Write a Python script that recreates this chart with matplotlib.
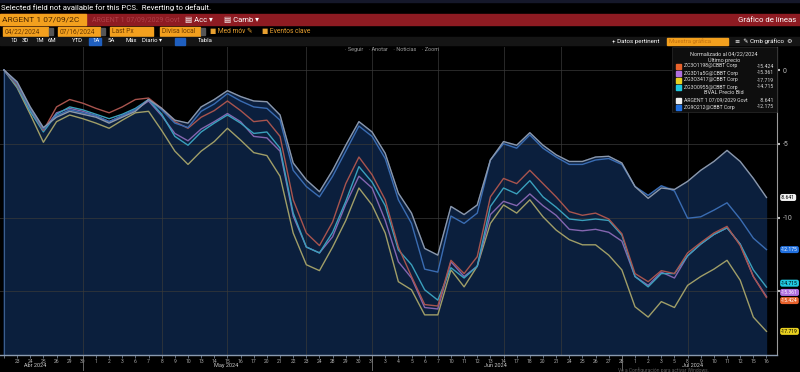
import numpy as np
import pandas as pd
import matplotlib.pyplot as plt
from matplotlib.patches import Rectangle

plt.rcParams['font.family'] = ['Roboto', 'DejaVu Sans']

W, H = 800, 372

# dias habiles del periodo (sin feriados de EEUU)
fechas = pd.bdate_range('2024-04-22', '2024-07-16')
fechas = fechas[~fechas.isin(pd.to_datetime(['2024-05-27', '2024-06-19', '2024-07-04']))]

# rendimiento normalizado al 04/22/2024 (%)
argent = [0, -0.8, -2.5, -3.9, -3.2, -2.8, -3.0, -3.2, -3.6, -3.2, -2.8, -2.0, -2.6, -3.4, -3.6,
          -2.5, -2.0, -1.4, -1.8, -2.1, -2.15, -3.05, -6.3, -7.45, -8.25, -6.8, -5.1, -3.5, -4.2,
          -5.65, -8.35, -9.7, -12.1, -12.55, -9.25, -9.8, -9.15, -6.1, -4.85, -5.1, -4.25, -5.1,
          -5.75, -6.2, -6.2, -5.9, -5.85, -6.3, -7.9, -8.7, -8.0, -8.1, -7.55, -6.8, -6.2, -5.45,
          -6.2, -7.35, -8.641]
azul = [0, -0.9, -2.6, -4.0, -3.1, -2.7, -2.9, -3.1, -3.5, -3.1, -2.7, -2.0, -2.7, -3.6, -3.9,
        -2.8, -2.3, -1.6, -2.1, -2.5, -2.6, -3.4, -6.8, -7.9, -8.6, -7.2, -5.5, -3.8, -4.5,
        -6.0, -8.8, -10.4, -13.5, -13.7, -9.9, -10.4, -9.7, -6.1, -5.0, -5.3, -4.4, -5.3,
        -5.9, -6.4, -6.4, -6.1, -6.0, -6.4, -7.9, -8.5, -7.85, -8.2, -10.05, -9.95, -9.5, -9.0,
        -10.1, -11.4, -12.175]
naranja = [0, -1.0, -2.6, -4.1, -2.5, -2.0, -2.25, -2.6, -2.9, -2.5, -2.0, -1.9, -2.6, -3.5, -3.95,
           -3.2, -2.75, -2.1, -2.75, -3.5, -3.4, -4.5, -8.8, -11.05, -11.9, -10.3, -7.7, -5.9, -7.1,
           -8.8, -12.0, -14.0, -15.9, -16.0, -12.9, -13.8, -12.65, -8.6, -7.35, -7.7, -6.8, -7.7,
           -8.6, -9.6, -9.85, -9.7, -10.1, -11.1, -13.8, -14.35, -13.6, -13.8, -12.4, -11.7, -11.05,
           -10.6, -11.9, -14.0, -15.424]
cian = [0, -1.1, -2.8, -4.2, -3.0, -2.5, -2.7, -3.0, -3.3, -3.0, -2.6, -2.0, -3.0, -4.5, -5.1,
        -4.2, -3.6, -3.05, -3.6, -4.3, -4.2, -5.3, -9.7, -12.0, -12.4, -11.0, -8.9, -6.55, -7.6,
        -9.2, -12.2, -13.2, -14.9, -15.6, -13.4, -14.1, -13.3, -9.25, -8.0, -8.4, -7.5, -8.6,
        -9.3, -10.1, -10.2, -10.1, -10.2, -11.2, -14.0, -14.7, -13.8, -13.8, -12.6, -11.8, -11.15,
        -10.7, -11.8, -13.55, -14.715]
violeta = [0, -1.1, -2.8, -4.1, -2.9, -2.6, -2.8, -3.1, -3.5, -3.1, -2.7, -2.1, -3.1, -4.3, -4.8,
           -4.0, -3.5, -2.95, -3.5, -4.5, -4.6, -5.5, -9.9, -12.0, -12.4, -11.3, -9.1, -7.2, -8.0,
           -10.2, -13.0, -14.1, -16.1, -16.2, -13.0, -14.0, -13.3, -9.8, -8.9, -9.2, -8.4, -9.2,
           -9.85, -10.8, -10.9, -10.8, -11.0, -11.6, -14.0, -14.6, -13.7, -14.1, -12.6, -11.8, -11.15,
           -10.7, -11.8, -14.0, -15.361]
amarillo = [0, -1.2, -3.0, -4.9, -3.5, -3.05, -3.3, -3.6, -3.95, -3.4, -2.9, -2.8, -4.1, -5.5, -6.4,
            -5.5, -4.85, -3.95, -4.75, -5.6, -5.8, -7.2, -11.05, -13.2, -13.6, -12.0, -10.2, -8.0, -9.15,
            -11.05, -14.35, -14.9, -16.6, -16.6, -13.55, -14.7, -13.3, -10.4, -9.15, -9.7, -8.8, -9.95,
            -10.85, -11.5, -11.85, -11.85, -12.55, -13.55, -16.05, -16.75, -15.7, -16.1, -14.6, -14.0, -13.5,
            -12.9, -14.25, -16.75, -17.719]

nombres = ['ZC3O1198@CBBT Corp', 'ZG3D1a5G@CBBT Corp', 'ZG3O3417@CBBT Corp',
           'ZG3O0955@CBBT Corp', 'ARGENT 1 07/09/2029 Govt', 'ZG9O212@CBBT Corp']
series = [naranja, violeta, amarillo, cian, argent, azul]
col_leyenda = ['#e8622c', '#b070e0', '#e8d020', '#20c8e0', '#f0f0f0', '#2070e0']
col_linea = ['#a8544e', '#8466b0', '#a09e68', '#3aa0bc', '#8c98ab', '#3a6cb2']

fig = plt.figure(figsize=(8, 3.72), dpi=100, facecolor='black')


def rect(x, y, w, h, color, **kw):
    fig.add_artist(Rectangle((x / W, 1 - (y + h) / H), w / W, h / H,
                             transform=fig.transFigure, color=color, **kw))


def txt(x, y, s, **kw):
    kw.setdefault('va', 'center')
    kw.setdefault('fontsize', 5)
    kw.setdefault('color', 'white')
    fig.text(x / W, 1 - y / H, s, **kw)


# barras de la terminal
rect(0, 0, 800, 2, '#15182a')
txt(1, 8, 'Selected field not available for this PCS.  Reverting to default.', fontsize=5.6)
rect(0, 14, 800, 11, '#8e1b22')
rect(0, 14, 86, 11, '#f3a01e')
txt(2, 19.5, 'ARGENT 1 07/09/2C', color='#4a2600', fontsize=6)
txt(92, 19.5, 'ARGENT 1 07/09/2029 Govt', color='#b04048', fontsize=5)
txt(185, 19.5, '\u25a4 Acc \u25be', fontsize=5.5)
txt(224, 19.5, '\u25a4 Camb \u25be', fontsize=5.5)
txt(796, 19.5, 'Gráfico de líneas', ha='right', fontsize=5.6)

for x0, w, s in [(3, 45, '04/22/2024'), (58, 42, '07/16/2024'), (110, 43, 'Last Px'), (160, 40, 'Divisa local')]:
    rect(x0, 27, w, 9, '#f3a01e')
    txt(x0 + 2, 31.5, s, color='#6a3a00', fontsize=4.8)
for x0 in [49, 101, 201]:
    rect(x0, 28, 4, 7, '#555555')
txt(210, 31.5, '\u25a0 Med móv \u270e', color='#e8a030', fontsize=4.8)
txt(262, 31.5, '\u25a0 Eventos clave', color='#e8a030', fontsize=4.8)

rect(0, 37, 800, 8, '#151515')
rect(89, 37.5, 12, 7, '#1f5fbf')
rect(175, 37.5, 10, 7, '#1f5fbf')
for x0, s in [(10, '1D'), (22, '3D'), (35, '1M'), (48, '6M'), (72, 'YTD'), (92, '1A'),
              (108, '5A'), (125, 'Máx'), (142, 'Diario \u25be'), (198, 'Tabla')]:
    txt(x0, 41, s, fontsize=4.3)
txt(612, 41, '+ Datos pertinent', fontsize=4.5)
rect(667, 37.5, 61, 7, '#f3a01e')
txt(669, 41, 'Muestra gráfica', color='#c07010', fontsize=4.3)
txt(735, 41, '\u2261  \u270e Cmb gráfico  \u2699', fontsize=4.5)

ax = fig.add_axes([0, 17 / H, 777 / W, 308 / H], facecolor='black')
x = np.arange(len(fechas))
ax.set_xlim(-0.3, 58.8)
ax.set_ylim(-19.32, 1.56)

tope = np.maximum(np.array(argent), np.array(azul))
ax.fill_between(x, tope, -30, color='#0b1f3d', zorder=1)
ax.plot([0, 0], [-30, 0], color='#3b5e8e', lw=0.8, zorder=1.5)

for v in [0, -5, -10, -15]:
    ax.axhline(v, color='#3a3a3a', lw=0.7, alpha=0.7, zorder=1.2)
for g in [6, 12, 17, 23, 28, 33, 38, 42.4, 52]:
    ax.axvline(g, color='#3a3a3a', lw=0.7, alpha=0.7, zorder=1.2)

orden = [2, 1, 3, 0, 5, 4]
for k in orden:
    ax.plot(x, series[k], color=col_linea[k], lw=1.0, zorder=3)

# ejes
for s in ['top', 'left']:
    ax.spines[s].set_visible(False)
ax.spines['right'].set_color('#9a9a9a')
ax.spines['right'].set_linewidth(0.8)
ax.spines['bottom'].set_color('#8a9ab0')
ax.spines['bottom'].set_linewidth(1.0)
ax.yaxis.tick_right()
ax.set_yticks([0, -5, -10, -15])
ax.set_yticklabels(['0', '-5', '-10', ''])  # el -15 queda tapado por las etiquetas
ax.tick_params(axis='y', length=2, width=1.5, colors='#bbbbbb', labelsize=5, pad=2)

etiquetas = [str(d.day) for d in fechas]
etiquetas[0] = ''
ax.set_xticks(x)
ax.set_xticklabels(etiquetas)
ax.tick_params(axis='x', length=2, width=0.5, colors='#8a9ab0', labelsize=3.6, labelcolor='#a8a8a8', pad=1)

meses = pd.Series(x, index=fechas)
xt = ax.get_xaxis_transform()
for nombre_mes, m in [('Abr 2024', 4), ('May 2024', 5), ('Jun 2024', 6), ('Jul 2024', 7)]:
    idx = meses[meses.index.month == m].values
    ax.text(idx.mean() - 0.6, -0.034, nombre_mes, transform=xt, ha='center', va='center',
            fontsize=4, color='#c8c8c8')
    if m < 7:
        ax.plot([idx[-1], idx[-1]], [0, -0.05], transform=xt, clip_on=False, color='#777777', lw=0.6)

# etiquetas de ultimo valor (desplazadas para que no se tapen)
yt = ax.get_yaxis_transform()
dy = [-2.2, 3.0, 0, 2.8, 0, 0]
texto_col = ['white', 'white', 'black', 'black', 'black', 'white']
for k in [3, 4, 2, 5, 1, 0]:
    v = series[k][-1]
    ax.annotate(f'{v:.3f}', xy=(1, v), xycoords=yt, xytext=(3, dy[k]), textcoords='offset points',
                ha='left', va='center', fontsize=3.6, color=texto_col[k], annotation_clip=False, zorder=6,
                bbox=dict(boxstyle='round,pad=0.2,rounding_size=0.4', fc=col_leyenda[k], ec='none'))

# leyenda
rect(672, 47, 105, 65, '#0e0e0e', ec='#2a2a2a', lw=0.5, zorder=8)
txt(724, 54, 'Normalizado al 04/22/2024', ha='center', fontsize=4, color='#dddddd', zorder=9)
txt(724, 60, 'Último precio', ha='center', fontsize=4, color='#dddddd', zorder=9)
txt(724, 93, 'BVAL Precio Bid', ha='center', fontsize=4, color='#dddddd', zorder=9)
filas = [66, 73, 80, 87, 100, 107]
for k in range(6):
    rect(676, filas[k] - 2.5, 5, 5, col_leyenda[k], zorder=9)
    txt(684, filas[k], nombres[k], fontsize=3.7, color='#dddddd', zorder=9)
    txt(774, filas[k], f'{series[k][-1]:.3f}', ha='right', fontsize=3.7, color='#dddddd', zorder=9)

txt(345, 50, '\u00b7 Seguir    \u00b7 Anotar    \u00b7 Noticias    \u00b7 Zoom', fontsize=4, color='#9a9a9a')
txt(618, 370.5, 'Ve a Configuración para activar Windows.', fontsize=3.5, color='#5a5a5a')

fig.savefig('out.png', dpi=100, facecolor='black')
